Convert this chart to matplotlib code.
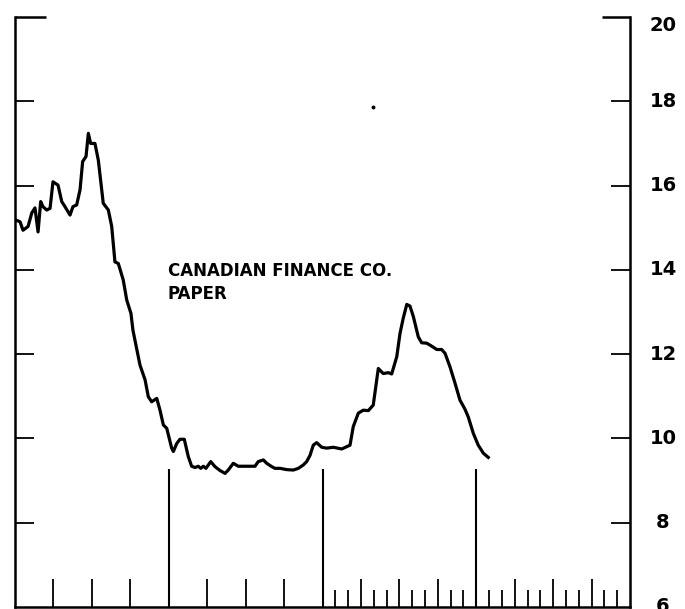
import matplotlib
matplotlib.use("Agg")
import matplotlib.pyplot as plt
import numpy as np

# time axis in years from the left edge of the chart (4 years shown)
years = [0.007, 0.033, 0.052, 0.085, 0.109, 0.130, 0.150, 0.167, 0.182, 0.206,
         0.228, 0.247, 0.280, 0.304, 0.325, 0.358, 0.377, 0.401, 0.423, 0.440,
         0.462, 0.477, 0.492, 0.520, 0.542, 0.574, 0.607, 0.629, 0.650, 0.672,
         0.704, 0.727, 0.754, 0.767, 0.793, 0.813, 0.846, 0.867, 0.889, 0.922,
         0.943, 0.965, 0.987, 1.019, 1.030, 1.052, 1.073, 1.101, 1.127, 1.149,
         1.171, 1.192, 1.208, 1.225, 1.242, 1.273, 1.301, 1.333, 1.366, 1.387,
         1.420, 1.452, 1.496, 1.540, 1.561, 1.582, 1.615, 1.637, 1.670, 1.691,
         1.724, 1.767, 1.810, 1.843, 1.875, 1.897, 1.919, 1.940, 1.962, 1.995,
         2.027, 2.070, 2.125, 2.179, 2.200, 2.233, 2.265, 2.298, 2.330, 2.363,
         2.395, 2.428, 2.450, 2.483, 2.504, 2.525, 2.548, 2.569, 2.591, 2.623,
         2.645, 2.678, 2.710, 2.743, 2.775, 2.797, 2.829, 2.862, 2.894, 2.927,
         2.948, 2.981, 3.013, 3.046, 3.078]

# yield, percent
rate = [15.18, 15.14, 14.94, 15.03, 15.35, 15.47, 14.90, 15.62, 15.50, 15.42,
        15.46, 16.09, 16.01, 15.62, 15.50, 15.30, 15.50, 15.54, 15.90, 16.57,
        16.69, 17.24, 17.00, 17.00, 16.60, 15.58, 15.42, 15.03, 14.19, 14.15,
        13.76, 13.28, 12.97, 12.57, 12.10, 11.74, 11.39, 10.99, 10.87, 10.95,
        10.67, 10.32, 10.24, 9.77, 9.69, 9.88, 9.98, 9.98, 9.57, 9.34,
        9.31, 9.34, 9.29, 9.34, 9.29, 9.45, 9.33, 9.24, 9.17, 9.25,
        9.41, 9.34, 9.34, 9.34, 9.34, 9.45, 9.49, 9.41, 9.33, 9.29,
        9.29, 9.26, 9.25, 9.29, 9.37, 9.45, 9.60, 9.84, 9.90, 9.79,
        9.77, 9.79, 9.75, 9.84, 10.28, 10.60, 10.67, 10.66, 10.79, 11.66,
        11.54, 11.56, 11.53, 11.94, 12.49, 12.85, 13.18, 13.14, 12.89, 12.41,
        12.27, 12.26, 12.19, 12.11, 12.11, 12.02, 11.70, 11.31, 10.91, 10.69,
        10.51, 10.12, 9.84, 9.65, 9.55]

y_ticks = [6, 8, 10, 12, 14, 16, 18, 20]
year_marks = [1, 2, 3]
quarter_marks = [0.25, 0.5, 0.75, 1.25, 1.5, 1.75, 2.25, 2.5, 2.75, 3.25, 3.5, 3.75]
month_marks = [m / 12 for m in range(25, 48) if m % 3 != 0]
label_lines = ["CANADIAN FINANCE CO.", "PAPER"]

fig = plt.figure(figsize=(6.85, 6.09), dpi=100)
ax = fig.add_axes([15 / 685, 1 - 607 / 609, 615 / 685, 590 / 609])

ax.plot(years, rate, color="black", lw=2.3, solid_joinstyle="round")

ax.set_xlim(0, 4)
ax.set_ylim(6, 20)

ax.spines["top"].set_visible(False)
for s in ["left", "right", "bottom"]:
    ax.spines[s].set_linewidth(1.8)

# y axis: inward ticks both sides, labels on the right
ax.set_yticks(y_ticks[1:-1])
ax.tick_params(axis="y", direction="in", left=True, right=True, length=14,
               width=1.3, labelleft=False, labelright=False)
for v in y_ticks:
    # the top label sits a little below its tick in the original
    yv = v - 0.2 if v == 20 else v
    ax.text(4.215, yv, str(v), ha="center", va="center", fontsize=14,
            fontweight="bold", clip_on=False)

# short caps at the top of each side
ax.plot([0, 0.2], [20, 20], color="black", lw=1.8, clip_on=False, solid_capstyle="butt")
ax.plot([3.82, 4], [20, 20], color="black", lw=1.8, clip_on=False, solid_capstyle="butt")

# x axis: quarterly ticks, monthly minor ticks in the last two years
ax.set_xticks(quarter_marks)
ax.set_xticks(month_marks, minor=True)
ax.tick_params(axis="x", which="major", direction="in", length=20, width=1.3,
               labelbottom=False)
ax.tick_params(axis="x", which="minor", direction="in", length=12, width=1.3)
ax.vlines(year_marks, 6, 9.27, color="black", lw=1.5)

ax.text(0.995, 13.85, label_lines[0], fontsize=12, fontweight="bold",
        va="baseline", ha="left")
ax.text(0.995, 13.30, label_lines[1], fontsize=12, fontweight="bold",
        va="baseline", ha="left")

# speck in the scan
ax.plot([2.33], [17.86], marker="o", markersize=1.8, color="black")

fig.savefig("out.png", dpi=100)
